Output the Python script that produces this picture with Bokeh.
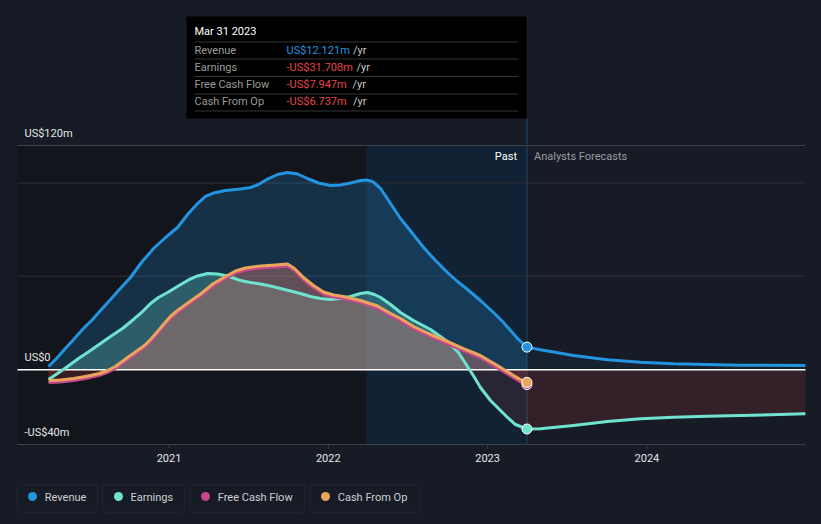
import numpy as np
from bokeh.plotting import figure
from bokeh.models import Range1d, BoxAnnotation
from bokeh.core.properties import value
from bokeh.embed import file_html
from bokeh.resources import INLINE

# ---------------- data (US$ m, decimal year) ----------------
rev_t = [2020.244, 2020.294, 2020.338, 2020.401, 2020.463, 2020.520, 2020.570, 2020.633,
         2020.683, 2020.758, 2020.827, 2020.903, 2020.978, 2021.053, 2021.122, 2021.179,
         2021.229, 2021.279, 2021.355, 2021.449, 2021.512, 2021.562, 2021.618, 2021.681,
         2021.744, 2021.807, 2021.869, 2021.938, 2022.014, 2022.077, 2022.139, 2022.202,
         2022.240, 2022.278, 2022.328, 2022.391, 2022.453, 2022.529, 2022.598, 2022.673,
         2022.748, 2022.811, 2022.874, 2022.955, 2023.037, 2023.094, 2023.144, 2023.194,
         2023.247]
rev_v = [1.74, 6.02, 10.30, 16.19, 22.07, 26.89, 31.71, 37.59,
         42.41, 49.36, 57.39, 64.88, 70.77, 76.12, 83.61, 88.96,
         92.71, 94.58, 95.92, 96.72, 97.53, 99.13, 102.07, 104.48,
         105.55, 104.75, 102.34, 99.93, 98.60, 98.86, 99.93, 101.27,
         101.54, 100.74, 96.99, 88.96, 80.94, 72.91, 65.42, 58.46,
         52.04, 47.22, 42.94, 37.06, 30.64, 25.82, 21.00, 16.19,
         12.121]
rev_fc_t = [2023.247, 2023.332, 2023.539, 2023.752, 2023.960, 2024.167, 2024.380, 2024.587, 2024.995]
rev_fc_v = [12.121, 10.68, 7.62, 5.32, 4.04, 3.18, 2.81, 2.43, 2.27]

earn_t = [2020.244, 2020.300, 2020.363, 2020.432, 2020.507, 2020.570, 2020.633, 2020.708,
          2020.777, 2020.834, 2020.884, 2020.934, 2020.991, 2021.053, 2021.122, 2021.179,
          2021.242, 2021.304, 2021.367, 2021.449, 2021.512, 2021.574, 2021.637, 2021.700,
          2021.763, 2021.825, 2021.888, 2021.951, 2022.014, 2022.077, 2022.139, 2022.202,
          2022.246, 2022.290, 2022.328, 2022.391, 2022.453, 2022.535, 2022.642, 2022.748,
          2022.817, 2022.874, 2022.918, 2022.955, 2023.018, 2023.081, 2023.125, 2023.175,
          2023.247]
earn_v = [-5.22, -2.01, 1.74, 6.02, 10.30, 14.05, 17.79, 22.07,
          26.89, 31.17, 35.45, 38.66, 41.34, 44.55, 48.03, 50.17,
          51.50, 51.24, 50.17, 47.76, 46.69, 45.89, 44.82, 43.48,
          42.14, 40.80, 39.20, 38.13, 37.59, 38.13, 39.20, 40.80,
          41.34, 40.27, 38.66, 34.92, 30.64, 26.35, 21.54, 15.12,
          9.23, 1.74, -4.15, -9.50, -16.46, -21.81, -25.55, -29.30,
          -31.708]
earn_fc_t = [2023.247, 2023.332, 2023.539, 2023.752, 2023.960, 2024.167, 2024.380, 2024.587, 2024.995]
earn_fc_v = [-31.708, -31.60, -29.83, -27.69, -26.25, -25.39, -24.86, -24.48, -23.57]

cf_t = [2020.244, 2020.319, 2020.401, 2020.457, 2020.507, 2020.564, 2020.614, 2020.664,
        2020.714, 2020.758, 2020.802, 2020.846, 2020.884, 2020.928, 2020.965, 2021.009,
        2021.053, 2021.122, 2021.198, 2021.279, 2021.367, 2021.417, 2021.480, 2021.574,
        2021.669, 2021.744, 2021.788, 2021.844, 2021.907, 2021.970, 2022.033, 2022.095,
        2022.202, 2022.309, 2022.391, 2022.453, 2022.535, 2022.642, 2022.748, 2022.849,
        2022.955, 2023.018, 2023.062, 2023.112, 2023.163, 2023.200, 2023.247]
cfo_v = [-5.75, -5.49, -4.68, -3.88, -3.08, -2.01, -0.40, 1.74,
         4.95, 7.63, 10.30, 12.98, 16.19, 20.47, 24.21, 28.50,
         31.71, 35.99, 40.54, 46.15, 50.43, 52.84, 54.45, 55.52,
         56.05, 56.59, 54.18, 49.36, 45.08, 41.61, 40.00, 39.20,
         37.06, 34.11, 30.10, 27.42, 23.14, 18.86, 15.12, 11.37,
         7.63, 4.41, 2.27, -0.40, -3.08, -4.95, -6.737]
fcf_v = [-6.8, -6.5, -5.7, -4.9, -4.1, -3.0, -1.4, 0.7,
         3.9, 6.6, 9.3, 12.0, 15.2, 19.5, 23.2, 27.5,
         30.7, 35.0, 39.5, 45.1, 49.4, 51.8, 53.4, 54.5,
         55.0, 55.5, 53.1, 48.3, 44.0, 40.5, 38.9, 38.1,
         36.0, 33.0, 29.0, 26.3, 22.0, 17.7, 13.9, 10.2,
         6.4, 3.2, 1.0, -1.6, -4.3, -6.2, -7.947]

series_names = ["Revenue", "Earnings", "Free Cash Flow", "Cash From Op"]
tip_date = "Mar 31 2023"
tip_values = ["US$12.121m", "-US$31.708m", "-US$7.947m", "-US$6.737m"]
ytick_vals = [120, 0, -40]
ytick_labels = ["US$120m", "US$0", "-US$40m"]
grid_vals = [100, 50]
xtick_vals = [2021, 2022, 2023, 2024]
xtick_labels = ["2021", "2022", "2023", "2024"]
past_end = 2023.247

# ---------------- styling ----------------
BG = "#161b25"
C_REV = "#2394df"
C_EARN = "#6fe3d0"
C_FCF = "#c8478c"
C_CFO = "#eaa55c"
C_NEG = "#e64545"
FONT = value("Roboto")

W, H = 821, 524
PX0, PPY, Y0PX, PPM = 168.5, 159.3, 369.25, 1.86875


def tx(X):
    return 2021 + (X - PX0) / PPY


def vy(Y):
    return (Y0PX - Y) / PPM


p = figure(width=W, height=H, x_range=Range1d(tx(0), tx(W)),
           y_range=Range1d(vy(H), vy(0)), output_backend="svg",
           toolbar_location=None, x_axis_type=None, y_axis_type=None,
           min_border=0, background_fill_color=BG, border_fill_color=BG,
           outline_line_color=None)
p.grid.visible = False

top_v, bot_v = ytick_vals[0], ytick_vals[-1]
left_t, right_t = tx(17), tx(805)
hl_start = tx(366)

# background regions
p.quad(left=left_t, right=hl_start, bottom=bot_v, top=top_v, fill_color="#12151c", line_color=None)
p.quad(left=hl_start, right=past_end, bottom=bot_v, top=top_v, fill_color="#112234", line_color=None)

# gridlines
p.segment(x0=left_t, x1=right_t, y0=grid_vals, y1=grid_vals, line_color="#232833", line_width=1.5)
p.segment(x0=left_t, x1=right_t, y0=[top_v, bot_v], y1=[top_v, bot_v], line_color="#3b404b", line_width=1.2)

# tooltip vertical line
p.segment(x0=past_end, x1=past_end, y0=bot_v, y1=vy(118), line_color="#1c3a57", line_width=1.5)


def pos(a):
    return np.maximum(np.array(a, dtype=float), 0)


def neg(a):
    return np.minimum(np.array(a, dtype=float), 0)


# area fills (past)
p.varea(x=rev_t, y1=0, y2=pos(rev_v), fill_color=C_REV, fill_alpha=0.22)
p.varea(x=earn_t, y1=0, y2=pos(earn_v), fill_color=C_EARN, fill_alpha=0.25)
p.varea(x=cf_t, y1=0, y2=pos(fcf_v), fill_color=C_FCF, fill_alpha=0.22)
p.varea(x=cf_t, y1=0, y2=pos(cfo_v), fill_color=C_CFO, fill_alpha=0.22)
p.varea(x=earn_t, y1=0, y2=neg(earn_v), fill_color=C_NEG, fill_alpha=0.12)
p.varea(x=cf_t, y1=0, y2=neg(fcf_v), fill_color=C_NEG, fill_alpha=0.1)
p.varea(x=cf_t, y1=0, y2=neg(cfo_v), fill_color=C_NEG, fill_alpha=0.1)
# forecast fills
p.varea(x=rev_fc_t, y1=0, y2=pos(rev_fc_v), fill_color=C_REV, fill_alpha=0.06)
p.varea(x=earn_fc_t, y1=0, y2=neg(earn_fc_v), fill_color=C_NEG, fill_alpha=0.15)

# zero line
p.segment(x0=left_t, x1=right_t, y0=0, y1=0, line_color="#ffffff", line_width=1.5)

# lines
lw = 3
p.line(earn_t, earn_v, line_color=C_EARN, line_width=lw, line_join="round")
p.line(earn_fc_t, earn_fc_v, line_color=C_EARN, line_width=lw, line_join="round")
p.line(cf_t, fcf_v, line_color=C_FCF, line_width=lw, line_join="round")
p.line(cf_t, cfo_v, line_color=C_CFO, line_width=lw, line_join="round")
p.line(rev_t, rev_v, line_color=C_REV, line_width=lw, line_join="round")
p.line(rev_fc_t, rev_fc_v, line_color=C_REV, line_width=lw, line_join="round")

# end dots
p.scatter(x=[past_end] * 4, y=[earn_v[-1], fcf_v[-1], cfo_v[-1], rev_v[-1]],
          fill_color=[C_EARN, C_FCF, C_CFO, C_REV], line_color="#ffffff",
          line_width=1, size=10)

# y labels
p.text(x=tx(24), y=[v + 12.5 / PPM for v in ytick_vals], text=ytick_labels,
       text_font=FONT, text_font_size="11px", text_color="#e6e6e6",
       text_align="left", text_baseline="middle")

# x ticks
p.segment(x0=xtick_vals, x1=xtick_vals, y0=bot_v, y1=bot_v - 4 / PPM, line_color="#3b404b", line_width=1)
p.text(x=xtick_vals, y=vy(457), text=xtick_labels, text_font=FONT, text_font_size="11px",
       text_color="#e6e6e6", text_align="center", text_baseline="middle")

# Past / Forecast labels
p.text(x=[tx(516.5)], y=[vy(156)], text=["Past"], text_font=FONT, text_font_size="11px",
       text_color="#ffffff", text_align="right", text_baseline="middle")
p.text(x=[tx(533.5)], y=[vy(156)], text=["Analysts Forecasts"], text_font=FONT,
       text_font_size="11px", text_color="#9a9ca2", text_align="left", text_baseline="middle")

# tooltip
p.quad(left=tx(186), right=tx(526), top=vy(16), bottom=vy(118), fill_color="#000000", line_color=None)
sep_y = [vy(Y) for Y in (41.5, 58.5, 76, 93.5, 110.5)]
p.segment(x0=tx(194), x1=tx(518), y0=sep_y, y1=sep_y, line_color="#333438", line_width=1)
p.text(x=[tx(194)], y=[vy(31)], text=[tip_date], text_font=FONT, text_font_size="11px",
       text_color="#ffffff", text_align="left", text_baseline="middle")
row_y = [vy(Y) for Y in (49.5, 66.5, 84, 101)]
p.text(x=tx(194), y=row_y, text=series_names, text_font=FONT, text_font_size="11px",
       text_color="#9a9a9a", text_align="left", text_baseline="middle")
p.text(x=tx(286), y=row_y, text=tip_values, text_font=FONT, text_font_size="11px",
       text_color=[C_REV, C_NEG, C_NEG, C_NEG], text_align="left", text_baseline="middle")
yr_x = [tx(X) for X in (352.5, 356, 352, 352.5)]
p.text(x=yr_x, y=row_y, text=["/yr"] * 4, text_font=FONT, text_font_size="11px",
       text_color="#c8c8c8", text_align="left", text_baseline="middle")

# legend
boxes = [(17, 97.3), (102.3, 184.3), (189.3, 304.3), (309.7, 419.3)]
for (l, r) in boxes:
    p.add_layout(BoxAnnotation(left=tx(l), right=tx(r), top=vy(484.3), bottom=vy(511.7),
                               fill_color=None, line_color="#3b404b", line_width=1,
                               border_radius=3))
p.scatter(x=[tx(X) for X in (32, 118, 205, 325)], y=vy(496), size=9,
          fill_color=[C_REV, C_EARN, C_FCF, C_CFO], line_color=None)
p.text(x=[tx(X) for X in (44.3, 130, 217.3, 337.3)], y=vy(496.5), text=series_names,
       text_font=FONT, text_font_size="11px", text_color="#cfd0d2",
       text_align="left", text_baseline="middle")

html = file_html(p, INLINE)
html = html.replace("</head>", "<style>html,body{background:%s;}</style></head>" % BG, 1)
open("out.html", "w").write(html)
